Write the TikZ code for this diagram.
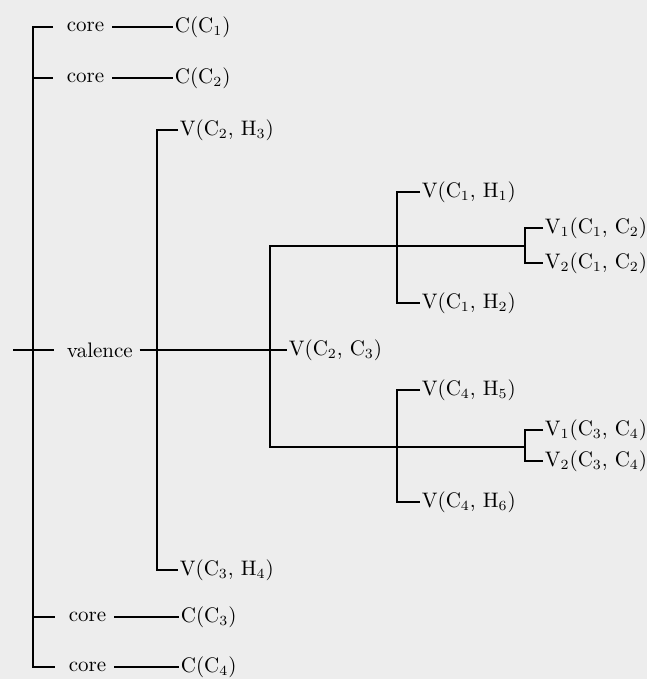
\documentclass[tikz,border=0pt]{standalone}
\usepackage{tikz}
\newcommand{\ix}[1]{$_{#1}$}
\tikzset{
  lab/.style={inner xsep=3.5pt, inner ysep=1pt, anchor=west},
  leaf/.style={inner xsep=0.5pt, inner ysep=1pt, anchor=west}}

\begin{document}
\begin{tikzpicture}[x=0.5pt, y=-0.5pt, line width=0.9pt,
    font=\fontsize{10.5}{12}\selectfont,
    tick/.style={shorten <=3pt, shorten >=3pt}]
  \fill[black!7] (0,0) rectangle (647,679);
  \useasboundingbox (0,0) rectangle (647,679);
  % trunk and core rows
  \coordinate (ttop) at (33,27);
  \coordinate (tbot) at (33,667);
  \coordinate (root) at (13,350);
  \node[lab] (cl1) at (59,27) {core};
  \node[leaf] (cc1) at (173,27) {C(C\ix{1})};
  \node[lab] (cl2) at (59,78) {core};
  \node[leaf] (cc2) at (173,78) {C(C\ix{2})};
  \node[lab] (cl3) at (61,617) {core};
  \node[leaf] (cc3) at (179,617) {C(C\ix{3})};
  \node[lab] (cl4) at (61,667) {core};
  \node[leaf] (cc4) at (179,667) {C(C\ix{4})};
  \draw[tick] (cl1.west) -- (ttop) -- (tbot) -- (cl4.west);
  \draw[shorten >=3pt] (ttop |- cl2.west) -- (cl2.west);
  \draw[shorten >=3pt] (ttop |- cl3.west) -- (cl3.west);
  \foreach \i in {1,...,4}
    \draw (cl\i.east) -- (cc\i.west);
  % valence branch
  \node[lab, inner xsep=3pt] (val) at (60,350) {valence};
  \node[leaf] (v23) at (287,350) {V(C\ix{2}, C\ix{3})};
  \draw[shorten >=3pt] (root) -- (val.west);
  \draw (val.east) -- (v23.west);
  \coordinate (b1) at (157,350);
  \node[leaf] (v2h3) at (178,130) {V(C\ix{2}, H\ix{3})};
  \node[leaf] (v3h4) at (178,570) {V(C\ix{3}, H\ix{4})};
  \draw (v2h3.west) -| (b1) |- (v3h4.west);
  \coordinate (b2) at (270,350);
  \coordinate (s1) at (397,246);
  \coordinate (s2) at (397,447);
  \draw (s1) -| (b2) |- (s2);
  % C1 side
  \node[leaf] (v1h1) at (420,192) {V(C\ix{1}, H\ix{1})};
  \node[leaf] (v1h2) at (420,303) {V(C\ix{1}, H\ix{2})};
  \draw (v1h1.west) -| (s1) |- (v1h2.west);
  \coordinate (p1) at (525,246);
  \draw (s1) -- (p1);
  \node[leaf] (va12) at (543,228) {V\ix{1}(C\ix{1}, C\ix{2})};
  \node[leaf] (vb12) at (543,263) {V\ix{2}(C\ix{1}, C\ix{2})};
  \draw (va12.west) -| (p1) |- (vb12.west);
  % C4 side
  \node[leaf] (v4h5) at (420,390) {V(C\ix{4}, H\ix{5})};
  \node[leaf] (v4h6) at (420,502) {V(C\ix{4}, H\ix{6})};
  \draw (v4h5.west) -| (s2) |- (v4h6.west);
  \coordinate (p2) at (525,447);
  \draw (s2) -- (p2);
  \node[leaf] (va34) at (543,430) {V\ix{1}(C\ix{3}, C\ix{4})};
  \node[leaf] (vb34) at (543,461) {V\ix{2}(C\ix{3}, C\ix{4})};
  \draw (va34.west) -| (p2) |- (vb34.west);
\end{tikzpicture}
\end{document}
